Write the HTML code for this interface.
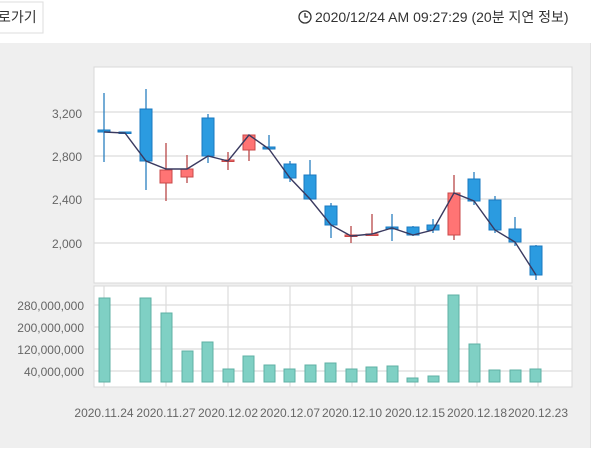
<!DOCTYPE html>
<html><head><meta charset="utf-8"><style>
body{margin:0;width:600px;height:448px;background:#fff;overflow:hidden;font-family:"Liberation Sans","Noto Sans CJK KR",sans-serif;}
</style></head><body>
<svg width="600" height="448" xmlns="http://www.w3.org/2000/svg" font-family="Liberation Sans, Noto Sans CJK KR, sans-serif">
<rect x="-2" y="2" width="45" height="31" fill="#fff" stroke="#ddd"/>
<text x="-2" y="22" font-size="14" fill="#333">로가기</text>
<circle cx="305" cy="17" r="6" fill="none" stroke="#333" stroke-width="1.3"/>
<path d="M305 13v4h3" fill="none" stroke="#333" stroke-width="1.3"/>
<text x="315" y="22" font-size="14" fill="#333">2020/12/24 AM 09:27:29 (20분 지연 정보)</text>
<rect x="0" y="43" width="590" height="405" fill="#efefef"/>
<rect x="590" y="43" width="1" height="405" fill="#e2e2e2"/>
<rect x="94" y="67" width="478" height="216" fill="#fff" stroke="#d8d8d8"/>
<rect x="94" y="286" width="478" height="101" fill="#fff" stroke="#d8d8d8"/>
<g stroke="#dcdcdc" stroke-width="1.2">
<line x1="94" y1="112" x2="572" y2="112"/><line x1="94" y1="156" x2="572" y2="156"/><line x1="94" y1="199" x2="572" y2="199"/><line x1="94" y1="243" x2="572" y2="243"/>
<line x1="94" y1="305" x2="572" y2="305"/><line x1="94" y1="327" x2="572" y2="327"/><line x1="94" y1="349" x2="572" y2="349"/><line x1="94" y1="371" x2="572" y2="371"/>
<line x1="104" y1="286" x2="104" y2="387"/><line x1="166" y1="286" x2="166" y2="387"/><line x1="228" y1="286" x2="228" y2="387"/><line x1="290" y1="286" x2="290" y2="387"/><line x1="352" y1="286" x2="352" y2="387"/><line x1="415" y1="286" x2="415" y2="387"/><line x1="477" y1="286" x2="477" y2="387"/><line x1="538" y1="286" x2="538" y2="387"/>
</g>
<g font-size="12" fill="#666" text-anchor="end">
<text x="82" y="118">3,200</text><text x="82" y="161">2,800</text><text x="82" y="204">2,400</text><text x="82" y="248">2,000</text>
<text x="84" y="310">280,000,000</text><text x="84" y="332">200,000,000</text><text x="84" y="354">120,000,000</text><text x="84" y="376">40,000,000</text>
</g>
<g font-size="12" fill="#666" text-anchor="middle">
<text x="104" y="417">2020.11.24</text><text x="166" y="417">2020.11.27</text><text x="228" y="417">2020.12.02</text><text x="290" y="417">2020.12.07</text><text x="352" y="417">2020.12.10</text><text x="415" y="417">2020.12.15</text><text x="477" y="417">2020.12.18</text><text x="538" y="417">2020.12.23</text>
</g>
<g fill="#7fd0c4" stroke="#5fb0a4">
<rect x="99" y="298" width="11" height="84"/>
<rect x="140" y="298" width="11" height="84"/>
<rect x="161" y="313" width="11" height="69"/>
<rect x="182" y="351" width="11" height="31"/>
<rect x="202" y="342" width="11" height="40"/>
<rect x="223" y="369" width="11" height="13"/>
<rect x="243" y="356" width="11" height="26"/>
<rect x="264" y="365" width="11" height="17"/>
<rect x="284" y="369" width="11" height="13"/>
<rect x="305" y="365" width="11" height="17"/>
<rect x="325" y="363" width="11" height="19"/>
<rect x="346" y="369" width="11" height="13"/>
<rect x="366" y="367" width="11" height="15"/>
<rect x="387" y="366" width="11" height="16"/>
<rect x="407" y="378" width="11" height="4"/>
<rect x="428" y="376" width="11" height="6"/>
<rect x="448" y="295" width="11" height="87"/>
<rect x="469" y="344" width="11" height="38"/>
<rect x="489" y="370" width="11" height="12"/>
<rect x="510" y="370" width="11" height="12"/>
<rect x="530" y="369" width="11" height="13"/>
</g>
<g stroke="#2a80c0" stroke-width="1.3">
<line x1="104" y1="93" x2="104" y2="162"/><line x1="125" y1="132" x2="125" y2="134"/><line x1="146" y1="89" x2="146" y2="190"/><line x1="208" y1="114" x2="208" y2="163"/><line x1="269" y1="135" x2="269" y2="150"/><line x1="290" y1="161" x2="290" y2="182"/><line x1="310" y1="160" x2="310" y2="200"/><line x1="331" y1="203" x2="331" y2="238"/><line x1="392" y1="214" x2="392" y2="241"/><line x1="413" y1="226" x2="413" y2="236"/><line x1="433" y1="219" x2="433" y2="233"/><line x1="474" y1="172" x2="474" y2="205"/><line x1="495" y1="196" x2="495" y2="233"/><line x1="515" y1="217" x2="515" y2="246"/><line x1="536" y1="245" x2="536" y2="280"/>
</g>
<g stroke="#b84848" stroke-width="1.3">
<line x1="166" y1="143" x2="166" y2="201"/><line x1="187" y1="155" x2="187" y2="183"/><line x1="228" y1="152" x2="228" y2="170"/><line x1="249" y1="135" x2="249" y2="161"/><line x1="351" y1="226" x2="351" y2="243"/><line x1="372" y1="214" x2="372" y2="235"/><line x1="454" y1="175" x2="454" y2="240"/>
</g>
<g fill="#2b9be0" stroke="#1a78c0">
<rect x="98" y="130" width="12" height="2"/><rect x="119" y="132" width="12" height="1.5"/><rect x="140" y="109" width="12" height="52"/><rect x="202" y="118" width="12" height="38"/><rect x="263" y="147" width="12" height="2"/><rect x="284" y="164" width="12" height="14"/><rect x="304" y="175" width="12" height="24"/><rect x="325" y="206" width="12" height="19"/><rect x="386" y="227" width="12" height="2"/><rect x="407" y="227" width="12" height="8"/><rect x="427" y="225" width="12" height="5"/><rect x="468" y="179" width="12" height="22"/><rect x="489" y="200" width="12" height="30"/><rect x="509" y="229" width="12" height="13"/><rect x="530" y="246" width="12" height="29"/>
</g>
<g fill="#ff7474" stroke="#c84848">
<rect x="160" y="170" width="12" height="13"/><rect x="181" y="169" width="12" height="8"/><rect x="222" y="160" width="12" height="1.5"/><rect x="243" y="135" width="12" height="15"/><rect x="345" y="235" width="12" height="1.5"/><rect x="366" y="234" width="12" height="1.5"/><rect x="448" y="193" width="12" height="42"/>
</g>
<polyline fill="none" stroke="#3a3a60" stroke-width="1.4" points="104,132 125,133 146,161 166,169 187,169 208,156 228,161 249,135 269,149 290,178 310,199 331,225 351,236 372,234 392,228 413,235 433,230 454,193 474,201 495,230 515,242 536,275"/>
</svg>
</body></html>
